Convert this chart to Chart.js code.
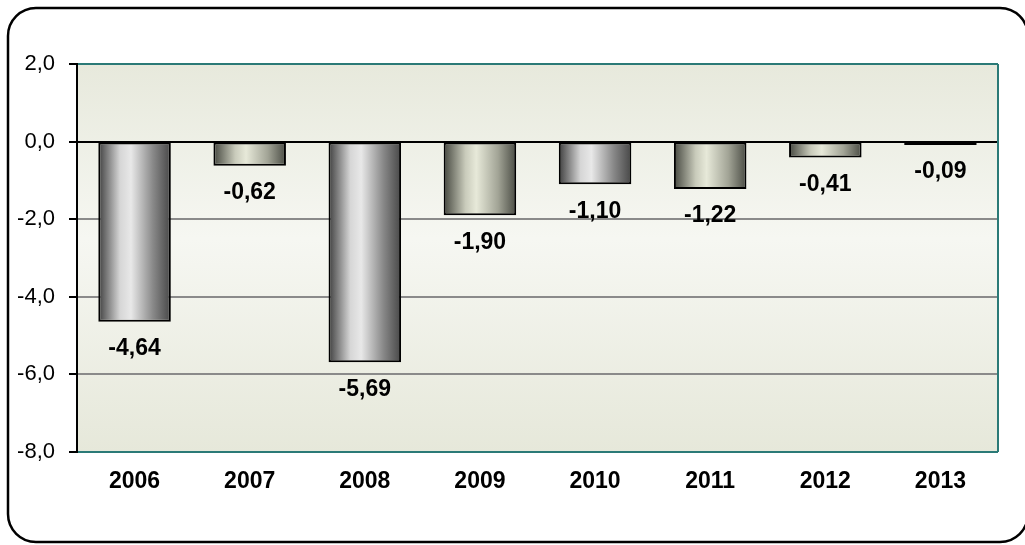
<!DOCTYPE html>
<html>
<head>
<meta charset="utf-8">
<script src="https://cdn.jsdelivr.net/npm/chart.js@4.4.1/dist/chart.umd.min.js"></script>
<style>
    html, body { margin: 0; padding: 0; background: #ffffff; }
    #wrap { width: 1025px; height: 545px; }
</style>
</head>
<body>
<div id="wrap"><canvas id="chart"></canvas></div>
<script>
// データ
const years = ['2006', '2007', '2008', '2009', '2010', '2011', '2012', '2013'];
const values = [-4.64, -0.62, -5.69, -1.90, -1.10, -1.22, -0.41, -0.09];
const barTones = ['gray', 'green', 'gray', 'green', 'gray', 'green', 'green', 'green'];
const yMin = -8;
const yMax = 2;
const yStep = 2;

const FONT = 'Arial, "Liberation Sans", sans-serif';
const TEAL = '#2b7a77';
const BAR_PCT = 0.63;

const toneStops = {
    gray: ['#3f3f3f', '#d6d6d6', '#e8e8e8', '#8a8a8a', '#474747'],
    green: ['#45473f', '#c9cbbb', '#e7e9d9', '#a2a496', '#4a4c44']
};

function formatComma(v, digits) {
    return v.toFixed(digits).replace('.', ',');
}

// 棒の横方向グラデーション
function barFill(ctx) {
    const chart = ctx.chart;
    const xScale = chart.scales.x;
    const tone = toneStops[barTones[ctx.dataIndex]] || toneStops.gray;
    if (!xScale || !isFinite(xScale.width) || xScale.width <= 0) return tone[2];
    const cx = xScale.getPixelForValue(ctx.dataIndex);
    const w = (xScale.width / years.length) * BAR_PCT;
    if (!isFinite(cx) || !isFinite(w)) return tone[2];
    const g = chart.ctx.createLinearGradient(cx - w / 2, 0, cx + w / 2, 0);
    g.addColorStop(0, tone[0]);
    g.addColorStop(0.3, tone[1]);
    g.addColorStop(0.45, tone[2]);
    g.addColorStop(0.75, tone[3]);
    g.addColorStop(1, tone[4]);
    return g;
}

// 外枠とプロット背景
const framePlugin = {
    id: 'frame',
    beforeDraw(chart) {
        const c = chart.ctx;
        const a = chart.chartArea;
        c.save();
        c.fillStyle = '#ffffff';
        c.fillRect(0, 0, chart.width, chart.height);

        c.beginPath();
        c.roundRect(8, 8, 1020, 534, 28);
        c.lineWidth = 2.5;
        c.strokeStyle = '#000000';
        c.stroke();

        const bg = c.createLinearGradient(0, a.top, 0, a.bottom);
        bg.addColorStop(0, '#e7e9dc');
        bg.addColorStop(0.45, '#f6f7f2');
        bg.addColorStop(1, '#e6e8da');
        c.fillStyle = bg;
        c.fillRect(a.left, a.top, a.right - a.left, a.bottom - a.top);
        c.restore();
    },
    beforeDatasetsDraw(chart) {
        const c = chart.ctx;
        const a = chart.chartArea;
        c.save();
        c.strokeStyle = TEAL;
        c.lineWidth = 2;
        c.beginPath();
        c.moveTo(a.right, a.top);
        c.lineTo(a.right, a.bottom);
        c.stroke();
        c.restore();
    }
};

// 値ラベル（棒の下）
const valueLabelPlugin = {
    id: 'valueLabels',
    afterDatasetsDraw(chart) {
        const c = chart.ctx;
        const meta = chart.getDatasetMeta(0);
        c.save();
        c.font = 'bold 23px ' + FONT;
        c.fillStyle = '#000000';
        c.textAlign = 'center';
        c.textBaseline = 'middle';
        meta.data.forEach((bar, i) => {
            c.fillText(formatComma(values[i], 2), bar.x, bar.y + 27);
        });
        c.restore();
    }
};

const ctx = document.getElementById('chart').getContext('2d');
new Chart(ctx, {
    type: 'bar',
    data: {
        labels: years,
        datasets: [{
            data: values,
            backgroundColor: barFill,
            borderColor: '#000000',
            borderWidth: 2,
            borderSkipped: false,
            categoryPercentage: 1,
            barPercentage: BAR_PCT
        }]
    },
    options: {
        responsive: true,
        maintainAspectRatio: false,
        animation: false,
        events: [],
        layout: {
            padding: { top: 64, right: 27, bottom: 0, left: 0 }
        },
        scales: {
            y: {
                min: yMin,
                max: yMax,
                afterFit(scale) { scale.width = 77; },
                ticks: {
                    stepSize: yStep,
                    padding: 14,
                    color: '#000000',
                    font: { family: FONT, size: 22 },
                    callback: v => formatComma(v, 1)
                },
                grid: {
                    color(c) {
                        const v = c.tick ? c.tick.value : null;
                        if (v === 0) return '#000000';
                        if (v === yMin || v === yMax) return TEAL;
                        return '#8a8a8a';
                    },
                    lineWidth: 2,
                    tickColor: '#000000',
                    tickLength: 8,
                    tickWidth: 2
                },
                border: { display: true, color: '#000000', width: 2 }
            },
            x: {
                afterFit(scale) { scale.height = 93; },
                ticks: {
                    padding: 16,
                    color: '#000000',
                    font: { family: FONT, size: 23, weight: 'bold' }
                },
                grid: { display: false, drawTicks: false },
                border: { display: false }
            }
        },
        plugins: {
            legend: { display: false },
            tooltip: { enabled: false }
        }
    },
    plugins: [framePlugin, valueLabelPlugin]
});
</script>
</body>
</html>
